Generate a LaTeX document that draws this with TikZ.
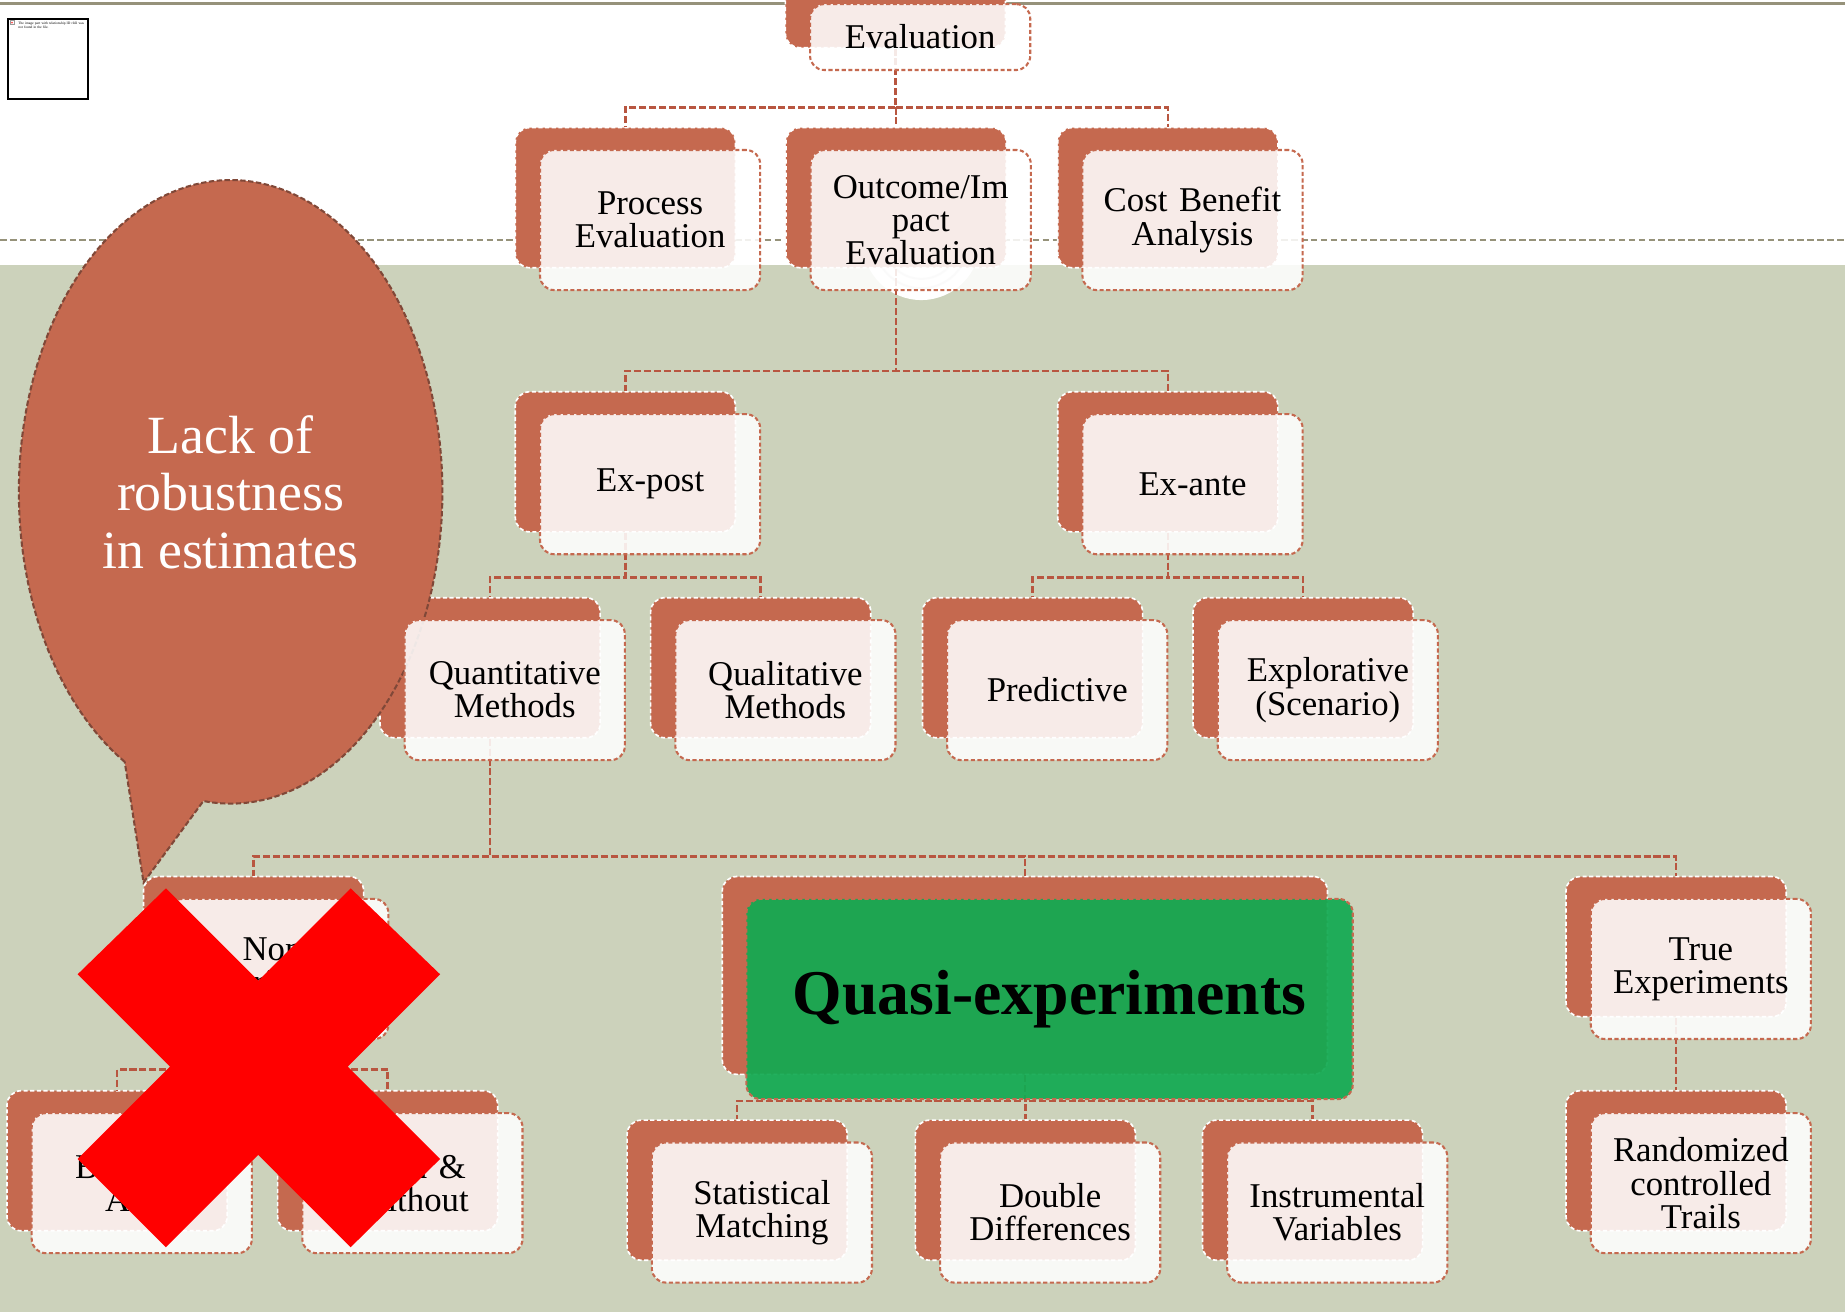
\documentclass[tikz,border=0pt]{standalone}
\usepackage{fontspec}
\setmainfont{Liberation Serif}
\definecolor{terra}{RGB}{197,105,79}
\definecolor{conncol}{RGB}{184,86,64}
\definecolor{sage}{RGB}{204,210,187}
\definecolor{qgreen}{RGB}{18,170,82}
\definecolor{olive}{RGB}{150,146,122}
\definecolor{bubbleedge}{RGB}{128,72,56}
\definecolor{xred}{RGB}{255,0,0}
\begin{document}
\begin{tikzpicture}[x=0.01cm,y=-0.01cm,
  backbox/.style={draw=white, line width=0.4pt, dash pattern=on 1pt off 0.6pt,
    fill=terra, rounded corners=0.12cm, minimum width=1.87cm, minimum height=1.19cm,
    inner sep=0pt},
  frontbox/.style={draw=terra, line width=0.5pt, dash pattern=on 1pt off 0.6pt,
    fill=white, fill opacity=0.87, text opacity=1, rounded corners=0.12cm,
    minimum width=1.87cm, minimum height=1.19cm, text width=1.8cm, align=center,
    inner sep=0pt, font=\fontsize{8.4}{8}\selectfont},
  conn/.style={draw=conncol, line width=0.6pt, dash pattern=on 1.7pt off 0.7pt},
]
\useasboundingbox (0,0) rectangle (1568,1115);
\clip (0,0) rectangle (1568,1115);

% slide background
\fill[white] (0,0) rectangle (1568,1115);
\fill[sage] (0,225) rectangle (1568,1115);
\draw[olive, line width=0.55pt] (0,3) -- (1568,3);
\draw[olive, line width=0.45pt, dash pattern=on 1.6pt off 0.8pt] (0,204) -- (1568,204);

% decorative circle below the title strip
\fill[white] (783,205) circle[radius=50];
\begin{scope}
  \clip (700,225) rectangle (860,260);
  \draw[black!12, line width=0.5pt] (783,205) circle[radius=40];
  \draw[black!12, line width=0.5pt] (783,205) circle[radius=32];
\end{scope}

% missing picture placeholder
\draw[black, line width=0.5pt] (7,16) rectangle (75,84);
\draw[black!40, line width=0.15pt, fill=white] (8.5,17.5) rectangle (12,21);
\fill[red!70] (10.2,19.2) circle[radius=0.9];
\node[anchor=north west, inner sep=0pt, text width=0.58cm, align=left,
  font=\fontsize{0.85}{1.0}\selectfont] (missing) at (15,18)
  {The image part with relationship ID rId2 was not found in the file.};

% shaded back plates
\node[backbox, minimum height=0.56cm] (evb) at (761,12.5) {};
\node[backbox] (prb) at (531.5,168) {};
\node[backbox] (oub) at (761.5,168) {};
\node[backbox] (cbb) at (992.5,168) {};
\node[backbox] (epb) at (531.5,392.5) {};
\node[backbox] (eab) at (992.5,392.5) {};
\node[backbox] (qnb) at (416.5,567.5) {};
\node[backbox] (qlb) at (646.5,567.5) {};
\node[backbox] (pdb) at (877.5,567.5) {};
\node[backbox] (exb) at (1107.5,567.5) {};
\node[backbox] (neb) at (215.5,804.5) {};
\node[backbox, minimum width=5.14cm, minimum height=1.68cm] (qeb) at (871,829) {};
\node[backbox] (teb) at (1424.5,804.5) {};
\node[backbox] (bab) at (99.5,986.5) {};
\node[backbox] (wwb) at (329.5,986.5) {};
\node[backbox] (smb) at (626.5,1011.5) {};
\node[backbox] (ddb) at (871.5,1011.5) {};
\node[backbox] (ivb) at (1115.5,1011.5) {};
\node[backbox] (rcb) at (1424.5,986.5) {};

% hierarchy connectors
\draw[conn] (evb.south) -- ++(0,50) -| (prb.north);
\draw[conn] (evb.south) -- ++(0,50) -| (oub.north);
\draw[conn] (evb.south) -- ++(0,50) -| (cbb.north);
\draw[conn] (oub.south) -- ++(0,87) -| (epb.north);
\draw[conn] (oub.south) -- ++(0,87) -| (eab.north);
\draw[conn] (epb.south) -- ++(0,38) -| (qnb.north);
\draw[conn] (epb.south) -- ++(0,38) -| (qlb.north);
\draw[conn] (eab.south) -- ++(0,38) -| (pdb.north);
\draw[conn] (eab.south) -- ++(0,38) -| (exb.north);
\draw[conn] (qnb.south) -- ++(0,100) -| (neb.north);
\draw[conn] (qnb.south) -- ++(0,100) -| (qeb.north);
\draw[conn] (qnb.south) -- ++(0,100) -| (teb.north);
\draw[conn] (neb.south) -- ++(0,44) -| (bab.north);
\draw[conn] (neb.south) -- ++(0,44) -| (wwb.north);
\draw[conn] (qeb.south) -- ++(0,22) -| (smb.north);
\draw[conn] (qeb.south) -- ++(0,22) -| (ddb.north);
\draw[conn] (qeb.south) -- ++(0,22) -| (ivb.north);
\draw[conn] (teb.south) -- (rcb.north);

% callout bubble
\path[fill=terra, draw=bubbleedge, line width=0.5pt, dash pattern=on 1.3pt off 0.6pt]
  plot[domain=120:457.4, samples=150, variable=\t] ({196+180*cos(\t)},{418+265*sin(\t)})
  -- (122,750) -- cycle;
\node[text=white, align=center, font=\fontsize{13}{13.9}\selectfont] (lack) at (196,418)
  {Lack of\\robustness\\in estimates};

% front cards with the labels
\node[frontbox, minimum height=0.56cm] (ev) at ([shift={(21,19)}]evb.center) {Evaluation};
\node[frontbox] (pr) at ([shift={(21,19)}]prb.center) {Process\\Evaluation};
\node[frontbox] (ou) at ([shift={(21,19)}]oub.center) {Outcome/Im\\pact\\Evaluation};
\node[frontbox] (cb) at ([shift={(21,19)}]cbb.center) {Cost Benefit\\Analysis};
\node[frontbox] (ep) at ([shift={(21,19)}]epb.center) {Ex-post};
\node[frontbox] (ea) at ([shift={(21,19)}]eab.center) {Ex-ante};
\node[frontbox] (qn) at ([shift={(21,19)}]qnb.center) {Quantitative\\Methods};
\node[frontbox] (ql) at ([shift={(21,19)}]qlb.center) {Qualitative\\Methods};
\node[frontbox] (pd) at ([shift={(21,19)}]pdb.center) {Predictive};
\node[frontbox] (ex) at ([shift={(21,19)}]exb.center) {Explorative\\(Scenario)};
\node[frontbox] (ne) at ([shift={(21,19)}]neb.center) {Non-\\experimental};
\node[frontbox, fill=qgreen, fill opacity=0.93, minimum width=5.15cm, minimum height=1.7cm,
  text width=5cm, font=\fontsize{15.4}{16}\selectfont\bfseries] (qe)
  at ([shift={(21,20)}]qeb.center) {Quasi-experiments};
\node[frontbox] (te) at ([shift={(21,19)}]teb.center) {True\\Experiments};
\node[frontbox] (ba) at ([shift={(21,19)}]bab.center) {Before \&\\After};
\node[frontbox] (ww) at ([shift={(21,19)}]wwb.center) {With \&\\Without};
\node[frontbox] (sm) at ([shift={(21,19)}]smb.center) {Statistical\\Matching};
\node[frontbox] (dd) at ([shift={(21,19)}]ddb.center) {Double\\Differences};
\node[frontbox] (iv) at ([shift={(21,19)}]ivb.center) {Instrumental\\Variables};
\node[frontbox] (rc) at ([shift={(21,19)}]rcb.center) {Randomized\\controlled\\Trails};

% red cross over the non-experimental branch
\fill[xred] (141,755) -- (219.5,833.5) -- (298,755) -- (374,828) -- (295.5,906.5)
  -- (374,985) -- (298,1060) -- (219.5,981.5) -- (141,1060) -- (66,985)
  -- (144.5,906.5) -- (66,828) -- cycle;
\end{tikzpicture}
\end{document}
